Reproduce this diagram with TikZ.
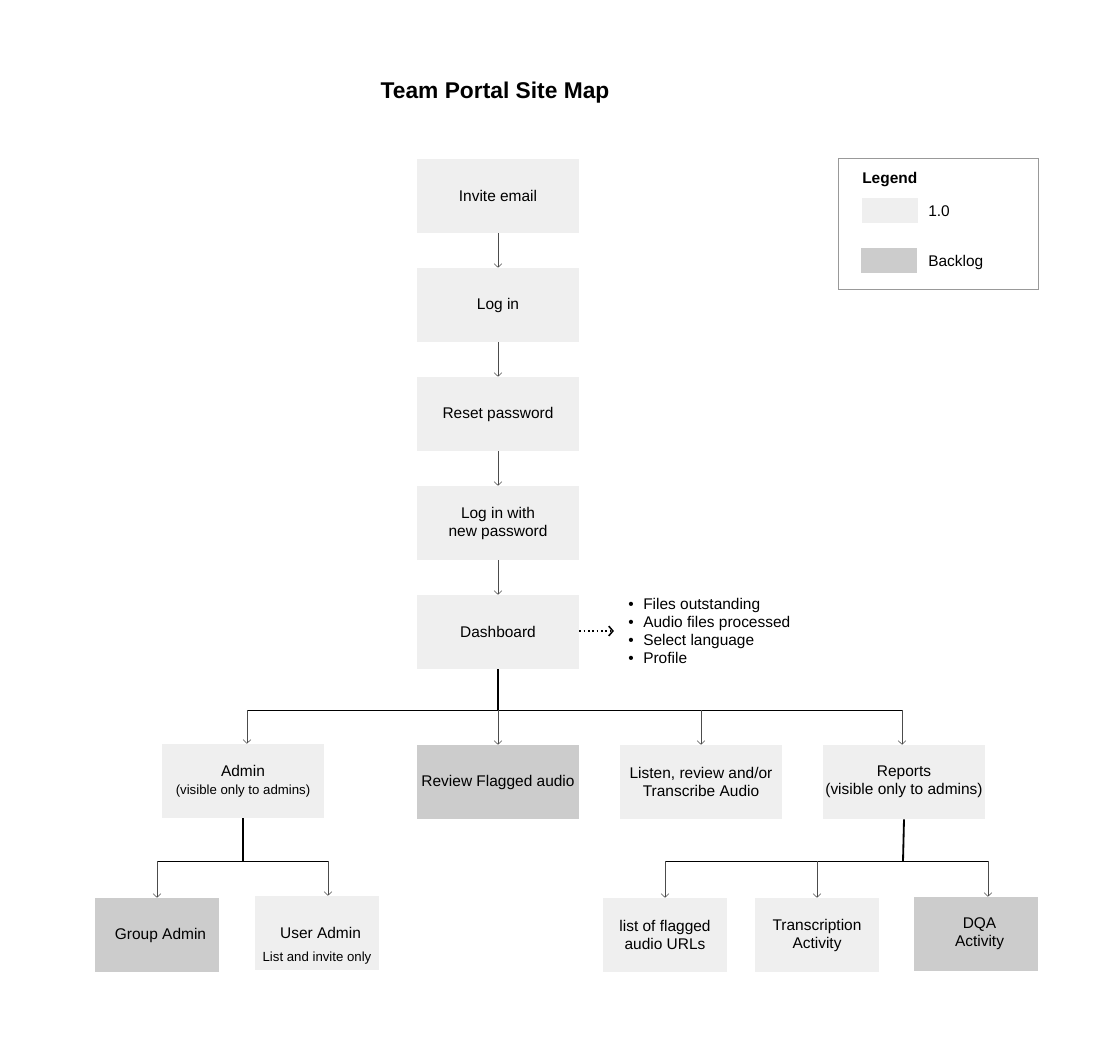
\documentclass[tikz,border=0pt]{standalone}
\usepackage{fontspec}
\setmainfont{Liberation Sans}
\usepackage{tikz}
\usetikzlibrary{arrows.meta,positioning,calc}
\definecolor{boxlight}{HTML}{EFEFEF}
\definecolor{boxdark}{HTML}{CCCCCC}
\newcommand\mapfont{\fontsize{11}{12.8}\selectfont}
\newcommand\notefont{\fontsize{9.4}{11.2}\selectfont}
\tikzset{
    page/.style={rectangle, fill=boxlight, minimum width=4.05cm, minimum height=1.85cm, align=center, inner sep=2pt, font=\mapfont},
    backlog/.style={page, fill=boxdark},
    leaf/.style={page, minimum width=3.1cm},
    leafdark/.style={leaf, fill=boxdark},
    arr/.style={draw=black!70, -{Straight Barb[length=2.6pt,width=5.5pt]}},
    trunk/.style={line width=1.3pt},
    txt/.style={inner sep=0pt, font=\mapfont, align=left}
}
\begin{document}
\begin{tikzpicture}[x=0.025cm, y=-0.025cm]
    \useasboundingbox (0,0) rectangle (1110,1039);
    \node[font=\fontsize{16.2}{19}\selectfont\bfseries] (title) at (495,93) {Team Portal Site Map};

    % main column
    \node[page] (invite) at (498,196) {Invite email};
    \node[page] (login) at (498,305) {Log in};
    \node[page] (reset) at (498,414) {Reset password};
    \node[page] (newpw) at (498,523) {Log in with\\new password};
    \node[page] (dash) at (498,632) {Dashboard};
    \draw[arr] (invite) -- (login);
    \draw[arr] (login) -- (reset);
    \draw[arr] (reset) -- (newpw);
    \draw[arr] (newpw) -- (dash);

    % dashboard contents
    \node[txt, anchor=west] (info) at (628,631) {\textbullet\hspace{6.8pt}Files outstanding\\\textbullet\hspace{6.8pt}Audio files processed\\\textbullet\hspace{6.8pt}Select language\\\textbullet\hspace{6.8pt}Profile};
    \draw[dotted, line width=1.1pt, -{Straight Barb[length=3pt,width=7pt]}] (dash.east |- info.west) -- ([xshift=-10pt]info.west);

    % second row
    \node[page] (admin) at (243,781) {Admin\\{\notefont (visible only to admins)}};
    \node[backlog] (review) at (498,782) {Review Flagged audio};
    \node[page] (listen) at (701,782) {Listen, review and/or\\Transcribe Audio};
    \node[page] (reports) at (904,782) {Reports\\(visible only to admins)};
    \coordinate (dj) at (498,710);
    \draw[trunk] (dash.south) -- (dj);
    \draw ([xshift=2.8pt]admin.north |- dj) -- ([xshift=-1.4pt]reports.north |- dj);
    \draw[arr] ([xshift=2.8pt]admin.north |- dj) -- ([xshift=2.8pt]admin.north);
    \draw[arr] (dj) -- (review.north);
    \draw[arr] (listen.north |- dj) -- (listen.north);
    \draw[arr] ([xshift=-1.4pt]reports.north |- dj) -- ([xshift=-1.4pt]reports.north);

    % admin pages
    \node[leafdark] (group) at (157,935) {\hspace{5pt}Group Admin};
    \node[leaf] (user) at (317,933) {\hspace{5pt}User Admin};
    \node[inner sep=0pt, font=\notefont] (usernote) at (317,958) {List and invite only};
    \coordinate (aj) at (243,861);
    \draw[trunk] (admin.south) -- (aj);
    \draw (group.north |- aj) -- ([xshift=7.8pt]user.north |- aj);
    \draw[arr] (group.north |- aj) -- (group.north);
    \draw[arr] ([xshift=7.8pt]user.north |- aj) -- ([xshift=7.8pt]user.north);

    % report pages
    \node[leaf] (flagged) at (665,935) {list of flagged\\audio URLs};
    \node[leaf] (transc) at (817,935) {Transcription\\Activity};
    \node[leafdark] (dqa) at (976,934) {\hspace{5pt}DQA\\\hspace{5pt}Activity};
    \coordinate (rj) at (903,861);
    \draw[trunk] (reports.south) -- (rj);
    \draw (flagged.north |- rj) -- ([xshift=8.5pt]dqa.north |- rj);
    \draw[arr] (flagged.north |- rj) -- (flagged.north);
    \draw[arr] (transc.north |- rj) -- (transc.north);
    \draw[arr] ([xshift=8.5pt]dqa.north |- rj) -- ([xshift=8.5pt]dqa.north);

    % legend
    \draw[draw=black!40] (838,158) rectangle (1038,289);
    \node[txt, anchor=west, font=\mapfont\bfseries] (legtitle) at (862,180) {Legend};
    \fill[boxlight] (862,198) rectangle (918,223);
    \node[txt, anchor=west] (legnew) at (928,211) {1.0};
    \fill[boxdark] (861,248) rectangle (917,273);
    \node[txt, anchor=west] (legback) at (928,262) {Backlog};
\end{tikzpicture}
\end{document}
